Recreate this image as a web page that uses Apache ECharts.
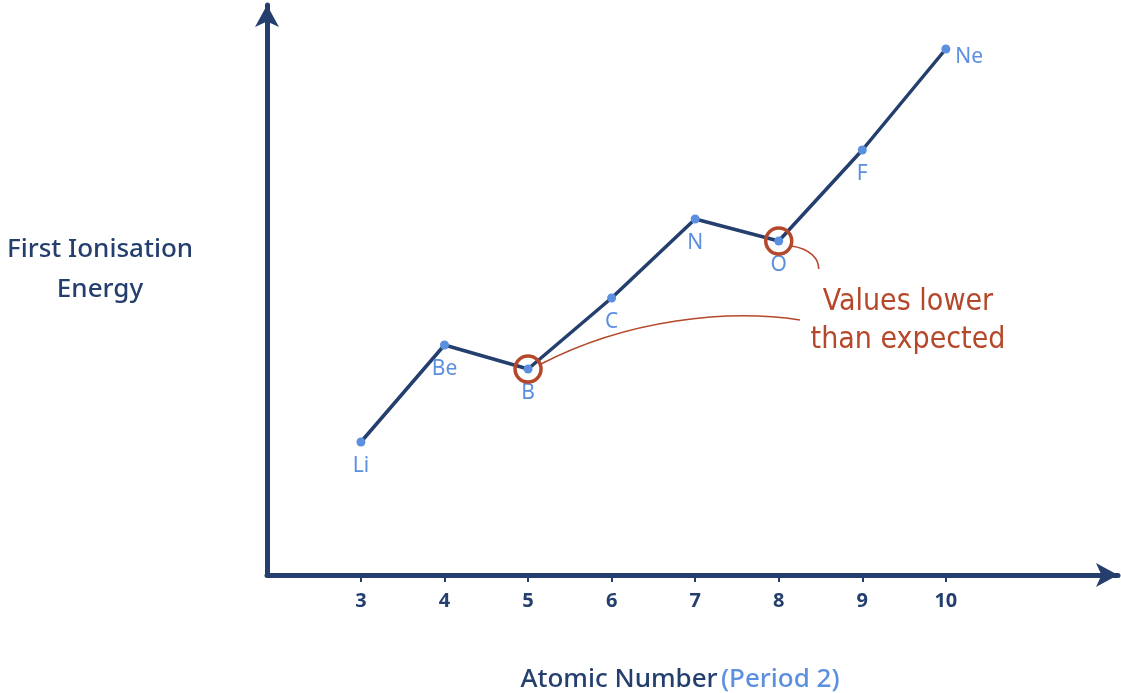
<!DOCTYPE html>
<html><head><meta charset="utf-8">
<script src="https://cdn.jsdelivr.net/npm/echarts@6/dist/echarts.min.js"></script>
<style>html,body{margin:0;padding:0;background:#fff}#c{width:1121px;height:693px}</style>
</head><body><div id="c"></div>
<script>
var atomicNumbers = [3, 4, 5, 6, 7, 8, 9, 10];
var elements = ['Li', 'Be', 'B', 'C', 'N', 'O', 'F', 'Ne'];
var energy = [133, 230, 206, 277, 356, 334, 425, 526];
var tickLabels = ['3', '4', '5', '6', '7', '8', '9', '10'];
var lowerThanExpected = ['B', 'O'];

var navy = '#243f6e', blue = '#5b8fe0', brown = '#b5482a';
var chart = echarts.init(document.getElementById('c'));

var pts = atomicNumbers.map(function (x, i) {
    return {
        value: [x, energy[i]],
        label: elements[i] === 'Ne'
            ? { position: 'right', offset: [0, 8] }
            : { position: 'bottom', offset: [0, 4] }
    };
});

chart.setOption({
    animation: false,
    grid: { left: 267, right: 3, top: 5, bottom: 118 },
    xAxis: {
        type: 'value', min: 1.876, max: 12.06,
        splitLine: { show: false },
        axisLine: { lineStyle: { color: navy, width: 5 }, symbol: ['none', 'arrow'], symbolSize: [18, 22] },
        axisTick: { show: true, customValues: atomicNumbers, length: 7, lineStyle: { color: navy, width: 2 } },
        axisLabel: { customValues: atomicNumbers, formatter: function (v) { return tickLabels[atomicNumbers.indexOf(v)]; },
            color: navy, fontSize: 20, fontWeight: 'bold', margin: 16, fontFamily: 'Noto Sans' }
    },
    yAxis: {
        type: 'value', min: 0, max: 570,
        splitLine: { show: false }, axisTick: { show: false }, axisLabel: { show: false },
        axisLine: { show: true, lineStyle: { color: navy, width: 5 }, symbol: ['none', 'arrow'], symbolSize: [18, 22] }
    },
    series: [{
        type: 'line', data: pts, symbol: 'circle', symbolSize: 9,
        lineStyle: { color: navy, width: 3.5 },
        itemStyle: { color: blue },
        label: { show: true, color: blue, fontSize: 21, fontFamily: 'Noto Sans',
            formatter: function (p) { return elements[p.dataIndex]; } },
        markPoint: {
            symbol: 'circle', symbolSize: 26, silent: true,
            itemStyle: { color: 'rgba(0,0,0,0)', borderColor: brown, borderWidth: 3.5 },
            label: { show: false },
            data: lowerThanExpected.map(function (e) {
                var i = elements.indexOf(e);
                return { coord: [atomicNumbers[i], energy[i]] };
            })
        }
    }]
});

var pB = chart.convertToPixel({ seriesIndex: 0 }, [atomicNumbers[2], energy[2]]);
var pO = chart.convertToPixel({ seriesIndex: 0 }, [atomicNumbers[5], energy[5]]);
chart.setOption({
    graphic: [
        { type: 'bezierCurve', shape: { x1: pB[0] + 13, y1: pB[1] - 5, cpx1: pB[0] + 100, cpy1: pB[1] - 50, cpx2: pB[0] + 200, cpy2: pB[1] - 60, x2: 800, y2: 320 },
          style: { stroke: brown, lineWidth: 1.5, fill: null } },
        { type: 'bezierCurve', shape: { x1: pO[0] + 13, y1: pO[1] + 5, cpx1: pO[0] + 32, cpy1: pO[1] + 8, cpx2: pO[0] + 40, cpy2: pO[1] + 18, x2: pO[0] + 40, y2: pO[1] + 28 },
          style: { stroke: brown, lineWidth: 1.5, fill: null } },
        { type: 'text', x: 908, y: 283, style: { text: 'Values lower\nthan expected', fill: brown, font: '30px "DejaVu Sans Condensed", sans-serif', lineHeight: 38, align: 'center' } },
        { type: 'text', x: 100, y: 230, style: { text: 'First Ionisation\nEnergy', fill: navy, font: '500 26px "Noto Sans"', align: 'center', lineHeight: 40 } },
        { type: 'text', x: 680, y: 667, style: { text: '{a|Atomic Number} {b|(Period 2)}', align: 'center', rich: {
            a: { fill: navy, font: '500 26px "Noto Sans"' }, b: { fill: blue, font: '500 26px "Noto Sans"' } } } }
    ]
});
</script></body></html>
